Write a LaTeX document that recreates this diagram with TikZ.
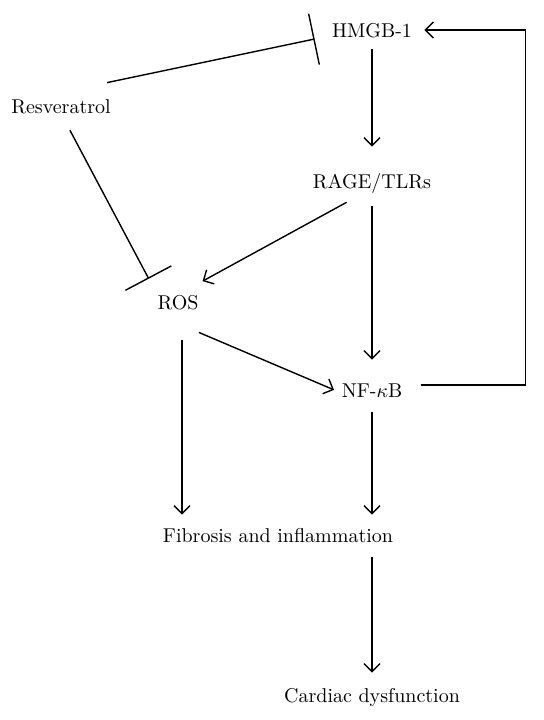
\documentclass[tikz,border=0pt]{standalone}
\usetikzlibrary{arrows.meta, positioning}
\tikzset{%
  lbl/.style={inner sep=0pt, text height=7pt, text depth=0pt},
  act/.style={-{Straight Barb[length=4pt,width=8pt]}, line width=0.7pt},
  inhib/.style={-{Bar[width=26pt]}, line width=0.7pt},
}
\begin{document}
\begin{tikzpicture}[on grid]
  \useasboundingbox (-186pt,15pt) rectangle (86pt,-345pt);

  \node[lbl] (hmgb) at (0,0) {HMGB-1};
  \node[lbl,below=75.5pt of hmgb] (rage) {RAGE/TLRs};
  \node[lbl,below=104.5pt of rage] (nfkb) {NF-$\kappa$B};
  \node[lbl,below left=60.5pt and 97pt of rage] (ros) {ROS};
  \node[lbl,below left=38pt and 155.5pt of hmgb] (resv) {Resveratrol};
  \node[lbl,below left=72.5pt and 47pt of nfkb] (fib) {Fibrosis and inflammation};
  \node[lbl,below=152.5pt of nfkb] (card) {Cardiac dysfunction};

  \draw[inhib] ([shift={(-2pt,8pt)}]resv.north east) -- ([shift={(-8.5pt,-4.5pt)}]hmgb.west);
  \draw[inhib, shorten <=9.5pt, shorten >=9pt] (resv.south) -- (ros.north west);

  \draw[act, shorten <=6pt, shorten >=13.5pt] (hmgb) -- (rage);
  \draw[act, shorten <=9pt, shorten >=11.5pt] (rage) -- (nfkb);
  \draw[act, shorten <=14.5pt, shorten >=14pt] (rage.south) -- (ros.north);
  \draw[act, shorten >=4pt] ([yshift=-11.5pt]ros.south east) -- ([yshift=-1.5pt]nfkb.west);
  \draw[act] ([shift={(9pt,2.5pt)}]nfkb.east) -- ++(52.5pt,0) |- ([xshift=6pt]hmgb.east);

  \draw[act, shorten <=15.5pt, shorten >=6.5pt] ([xshift=2pt]ros.south) -- ([xshift=2pt]ros.south |- fib.north);
  \draw[act, shorten <=7.5pt, shorten >=6.5pt] (nfkb) -- (nfkb |- fib.north);
  \draw[act, shorten <=7.5pt, shorten >=7.5pt] (fib.south -| card) -- (card);
\end{tikzpicture}
\end{document}
